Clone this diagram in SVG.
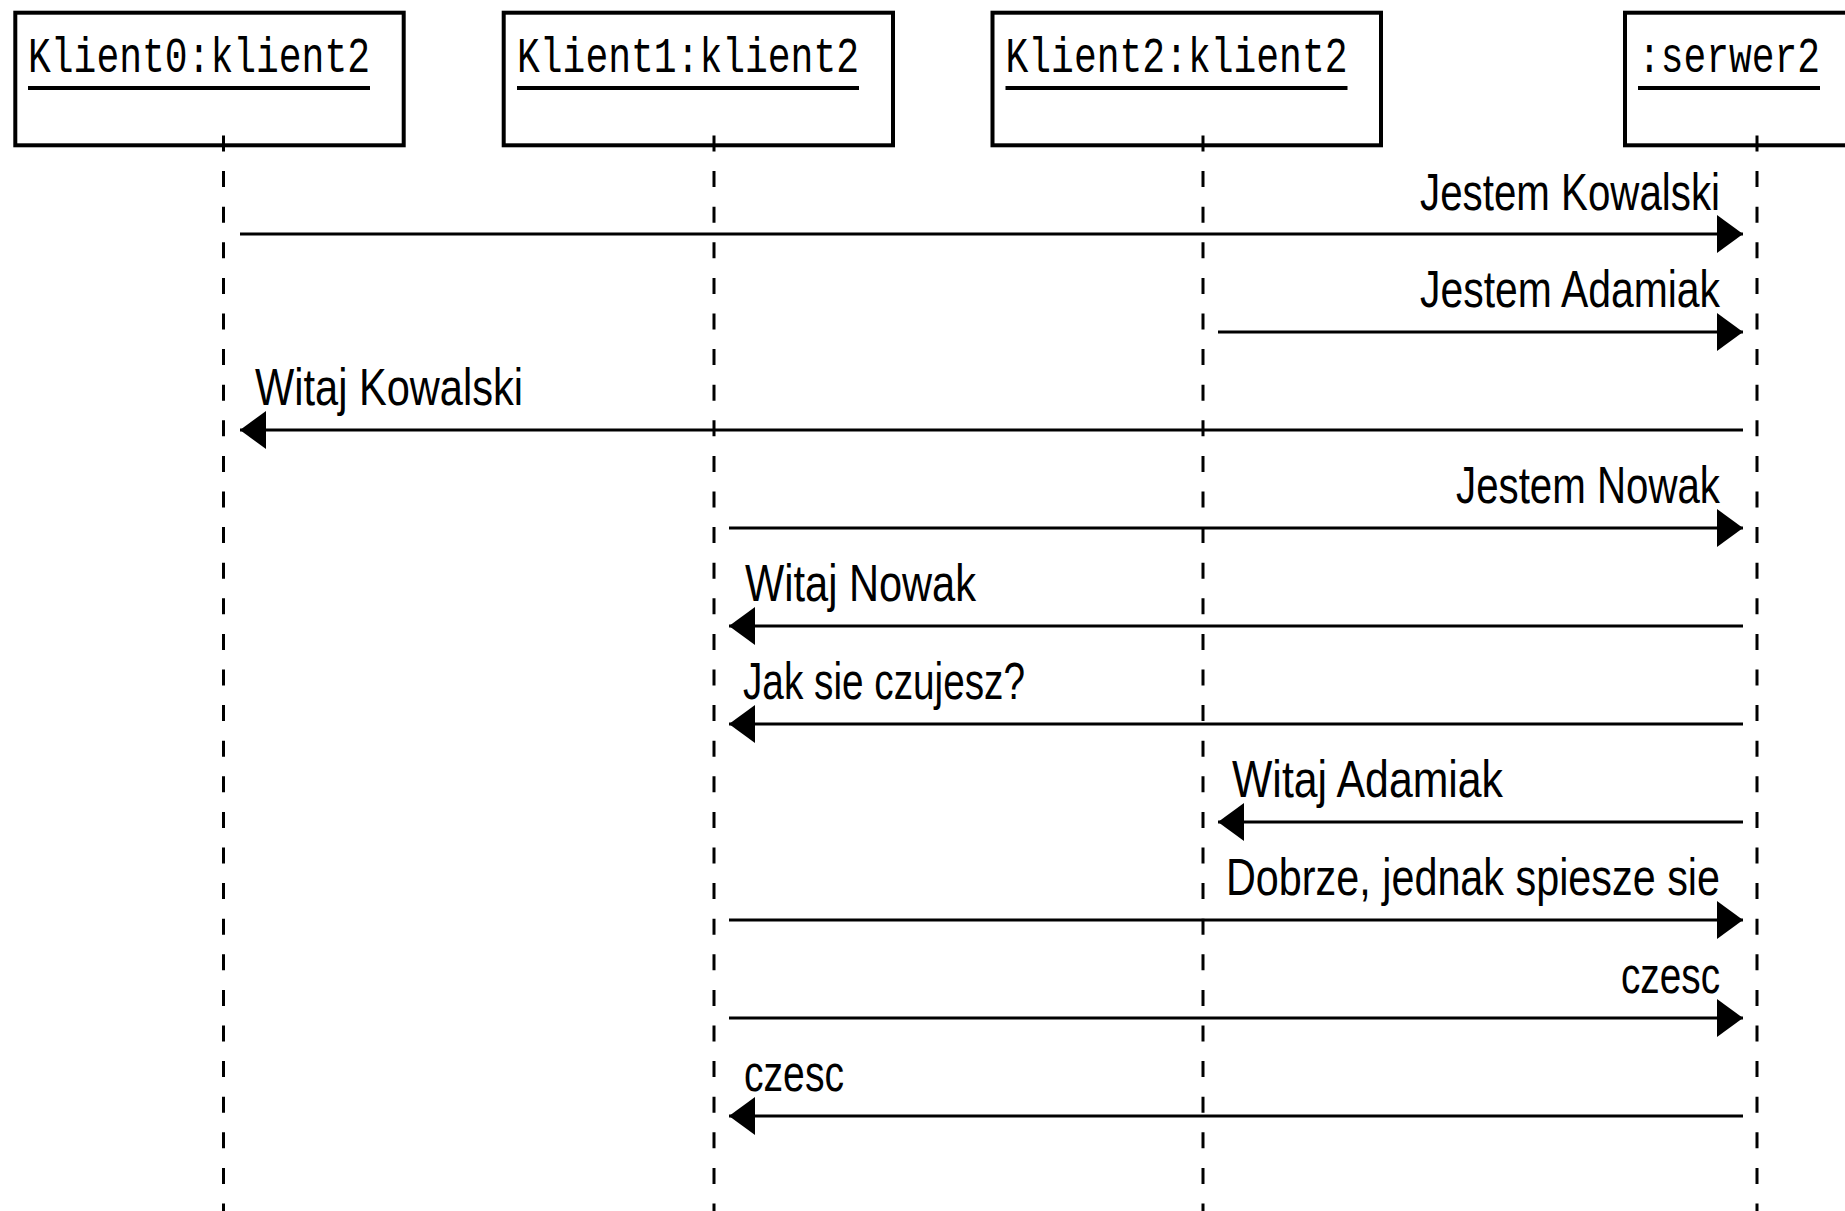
<svg xmlns="http://www.w3.org/2000/svg" width="1845" height="1211" viewBox="0 0 1845 1211">
<style>
.box{fill:#fff;stroke:#000;stroke-width:4}
.name{font-family:"Liberation Mono","DejaVu Sans Mono",monospace;font-size:50px;fill:#000}
.ul{stroke:#000;stroke-width:4}
.life{stroke:#000;stroke-width:3;stroke-dasharray:16 19.6}
.msg{stroke:#000;stroke-width:3;fill:none}
.lbl{font-family:"Liberation Sans",Arial,sans-serif;font-size:52px;fill:#000}
</style>
<defs>
<marker id="ah" markerUnits="userSpaceOnUse" markerWidth="30" markerHeight="42" viewBox="0 -21 28 42" refX="26" refY="0" orient="auto">
<path d="M0,-19 L26,0 L0,19 z" fill="#000"/>
</marker>
</defs>
<rect width="1845" height="1211" fill="#fff"/>
<g id="klient0">
<rect class="box" x="15.3" y="12.7" width="388.4" height="132.6"/>
<text class="name" x="28" y="71.5" textLength="342" lengthAdjust="spacingAndGlyphs">Klient0:klient2</text>
<line class="ul" x1="28" y1="88" x2="370" y2="88"/>
</g>
<g id="klient1">
<rect class="box" x="503.7" y="12.7" width="389.3" height="132.6"/>
<text class="name" x="517" y="71.5" textLength="342" lengthAdjust="spacingAndGlyphs">Klient1:klient2</text>
<line class="ul" x1="517" y1="88" x2="859" y2="88"/>
</g>
<g id="klient2">
<rect class="box" x="992.5" y="12.7" width="388.5" height="132.6"/>
<text class="name" x="1005.5" y="71.5" textLength="342" lengthAdjust="spacingAndGlyphs">Klient2:klient2</text>
<line class="ul" x1="1005.5" y1="88" x2="1347.5" y2="88"/>
</g>
<g id="serwer">
<rect class="box" x="1625" y="12.7" width="389" height="132.6"/>
<text class="name" x="1638" y="71.5" textLength="182" lengthAdjust="spacingAndGlyphs">:serwer2</text>
<line class="ul" x1="1638" y1="88" x2="1820" y2="88"/>
</g>
<g id="lifelines">
<line class="life" x1="223.5" y1="135.5" x2="223.5" y2="1211"/>
<line class="life" x1="714" y1="135.5" x2="714" y2="1211"/>
<line class="life" x1="1203" y1="135.5" x2="1203" y2="1211"/>
<line class="life" x1="1757" y1="135.5" x2="1757" y2="1211"/>
</g>
<g id="connectors">
<line class="msg" x1="240" y1="234" x2="1743" y2="234" marker-end="url(#ah)"/>
<line class="msg" x1="1218" y1="332" x2="1743" y2="332" marker-end="url(#ah)"/>
<line class="msg" x1="1743" y1="430" x2="240" y2="430" marker-end="url(#ah)"/>
<line class="msg" x1="729" y1="528" x2="1743" y2="528" marker-end="url(#ah)"/>
<line class="msg" x1="1743" y1="626" x2="729" y2="626" marker-end="url(#ah)"/>
<line class="msg" x1="1743" y1="724" x2="729" y2="724" marker-end="url(#ah)"/>
<line class="msg" x1="1743" y1="822" x2="1218" y2="822" marker-end="url(#ah)"/>
<line class="msg" x1="729" y1="920" x2="1743" y2="920" marker-end="url(#ah)"/>
<line class="msg" x1="729" y1="1018" x2="1743" y2="1018" marker-end="url(#ah)"/>
<line class="msg" x1="1743" y1="1116" x2="729" y2="1116" marker-end="url(#ah)"/>
</g>
<g id="labels">
<text class="lbl" x="1420" y="210" textLength="300" lengthAdjust="spacingAndGlyphs">Jestem Kowalski</text>
<text class="lbl" x="1420" y="307" textLength="300" lengthAdjust="spacingAndGlyphs">Jestem Adamiak</text>
<text class="lbl" x="255" y="405" textLength="268" lengthAdjust="spacingAndGlyphs">Witaj Kowalski</text>
<text class="lbl" x="1456" y="503" textLength="264" lengthAdjust="spacingAndGlyphs">Jestem Nowak</text>
<text class="lbl" x="745" y="601" textLength="231" lengthAdjust="spacingAndGlyphs">Witaj Nowak</text>
<text class="lbl" x="743" y="699" textLength="282" lengthAdjust="spacingAndGlyphs">Jak sie czujesz?</text>
<text class="lbl" x="1232" y="797" textLength="271" lengthAdjust="spacingAndGlyphs">Witaj Adamiak</text>
<text class="lbl" x="1226" y="895" textLength="494" lengthAdjust="spacingAndGlyphs">Dobrze, jednak spiesze sie</text>
<text class="lbl" x="1621" y="993" textLength="99" lengthAdjust="spacingAndGlyphs">czesc</text>
<text class="lbl" x="744" y="1091" textLength="100" lengthAdjust="spacingAndGlyphs">czesc</text>
</g>
</svg>
